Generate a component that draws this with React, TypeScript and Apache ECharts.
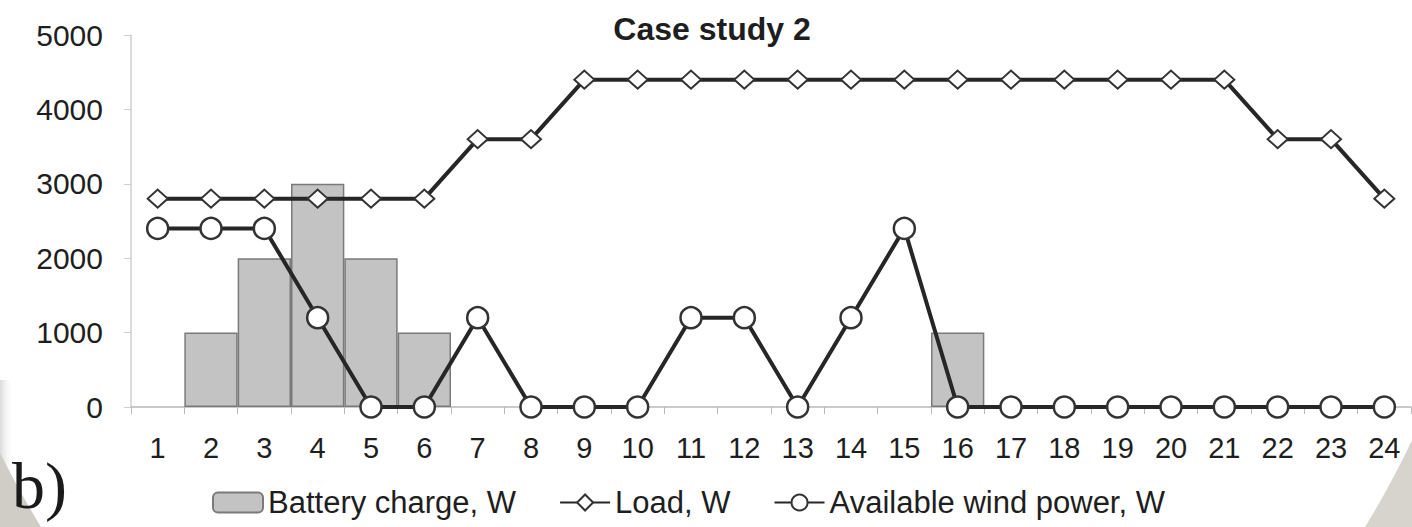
import React, { useEffect, useRef } from "react";
import * as echarts from "echarts";

const hours = ["1","2","3","4","5","6","7","8","9","10","11","12","13","14","15","16","17","18","19","20","21","22","23","24"];
const batteryCharge = [null,1000,2000,3000,2000,1000,null,null,null,null,null,null,null,null,null,1000,null,null,null,null,null,null,null,null];
const load = [2800,2800,2800,2800,2800,2800,3600,3600,4400,4400,4400,4400,4400,4400,4400,4400,4400,4400,4400,4400,4400,3600,3600,2800];
const windPower = [2400,2400,2400,1200,0,0,1200,0,0,0,1200,1200,0,1200,2400,0,0,0,0,0,0,0,0,0];
const yTicks = [0, 1000, 2000, 3000, 4000, 5000];

const FONT = "'Liberation Sans', Arial, sans-serif";

// points along an ellipse arc, used to shade the page corners
function cornerPoints(cx: number, side: number, rx: number, ry: number, corner: [number, number]) {
  const pts: number[][] = [];
  for (let y = 380; y <= 527; y += 3) {
    const t = 1 - (y * y) / (ry * ry);
    const x = cx + side * rx * Math.sqrt(Math.max(t, 0));
    pts.push([x, y]);
  }
  pts.push([cx + side * rx * Math.sqrt(Math.max(1 - (527 * 527) / (ry * ry), 0)), 527]);
  pts.push(corner);
  return pts;
}

export default function App() {
  const ref = useRef<HTMLDivElement>(null);
  useEffect(() => {
    if (!ref.current) return;
    const chart = echarts.init(ref.current, null, { renderer: "svg" });
    chart.setOption({
      animation: false,
      backgroundColor: "#ffffff",
      title: {
        text: "Case study 2",
        left: 707,
        textAlign: "center",
        top: 8,
        textStyle: { fontFamily: FONT, fontSize: 32, fontWeight: "bold", color: "#1e1e1e" },
      },
      graphic: [
        {
          type: "polygon",
          z: -10,
          silent: true,
          shape: { points: cornerPoints(706, 1, 804, 920, [1412, 527]) },
          style: { fill: "#d6d4cc" },
        },
        {
          type: "polygon",
          z: -10,
          silent: true,
          shape: { points: cornerPoints(700, -1, 804, 920, [0, 527]) },
          style: { fill: "#cfcdc6" },
        },
        {
          type: "rect",
          z: -11,
          silent: true,
          shape: { x: 0, y: 380, width: 14, height: 147 },
          style: {
            fill: new echarts.graphic.LinearGradient(0, 0, 1, 0, [
              { offset: 0, color: "rgba(150,150,150,0.35)" },
              { offset: 1, color: "rgba(255,255,255,0)" },
            ]),
          },
        },
        {
          type: "text",
          z: 10,
          x: 12,
          y: 485,
          style: {
            text: "b)",
            font: "66px 'Liberation Serif', 'DejaVu Serif', serif",
            fill: "#1a1a1a",
            verticalAlign: "middle",
          },
        },
      ],
      legend: {
        left: 207,
        top: 482,
        itemWidth: 50,
        itemHeight: 20,
        itemGap: 43,
        textStyle: { fontFamily: FONT, fontSize: 31, color: "#1e1e1e" },
        data: ["Battery charge, W", "Load, W", "Available wind power, W"],
      },
      grid: { left: 131, right: 1, top: 35, bottom: 120, containLabel: false },
      xAxis: {
        type: "category",
        data: hours,
        boundaryGap: true,
        axisLine: { lineStyle: { color: "#b8b8b8", width: 1.5 } },
        axisTick: { show: true, length: 7, inside: false, lineStyle: { color: "#b8b8b8" } },
        axisLabel: { fontFamily: FONT, fontSize: 29, color: "#1e1e1e", margin: 26 },
        splitLine: { show: false },
      },
      yAxis: {
        type: "value",
        min: yTicks[0],
        max: yTicks[yTicks.length - 1],
        interval: 1000,
        axisLine: { show: true, lineStyle: { color: "#cfcfcf", width: 1.5 } },
        axisTick: { show: true, length: 7, lineStyle: { color: "#cfcfcf" } },
        axisLabel: {
          fontFamily: FONT,
          fontSize: 30,
          color: "#1e1e1e",
          margin: 28,
          formatter: (v: number) => String(v),
        },
        splitLine: { show: false },
      },
      series: [
        {
          name: "Battery charge, W",
          type: "bar",
          data: batteryCharge,
          barWidth: "100%",
          itemStyle: { color: "#c3c3c3", borderColor: "#7a7a7a", borderWidth: 1.5 },
          z: 2,
        },
        {
          name: "Load, W",
          type: "line",
          data: load,
          symbol: "diamond",
          symbolSize: [20, 18],
          showAllSymbol: true,
          lineStyle: { color: "#262626", width: 4 },
          itemStyle: { color: "#ffffff", borderColor: "#333333", borderWidth: 2 },
          z: 3,
        },
        {
          name: "Available wind power, W",
          type: "line",
          data: windPower,
          symbol: "circle",
          symbolSize: 21,
          showAllSymbol: true,
          lineStyle: { color: "#262626", width: 4 },
          itemStyle: { color: "#ffffff", borderColor: "#333333", borderWidth: 2.5 },
          z: 4,
        },
      ],
    });
    return () => chart.dispose();
  }, []);
  return <div ref={ref} style={{ position: "fixed", left: 0, top: 0, width: 1412, height: 527 }} />;
}
